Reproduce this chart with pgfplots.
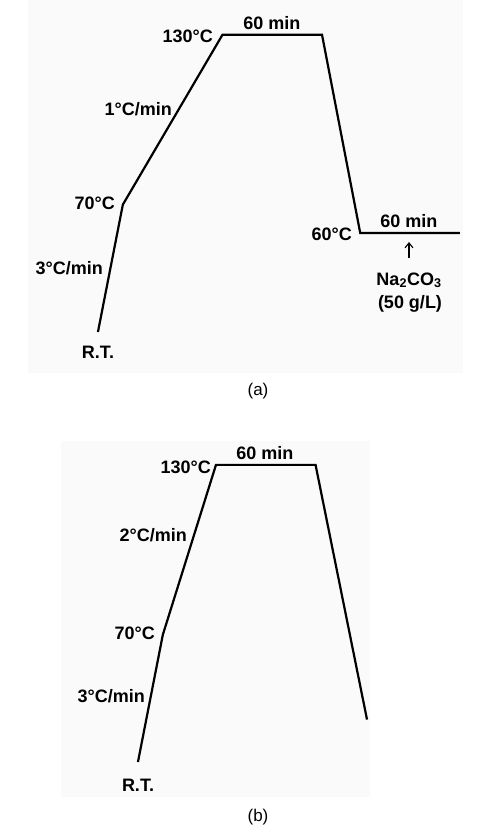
\documentclass[border=0pt]{standalone}
\usepackage{pgfplots}
\pgfplotsset{compat=1.18}
\usepackage{fontspec}
\setmainfont{Liberation Sans}
\usetikzlibrary{arrows.meta}
\pgfplotstableread{
t T
0 25
15 70
75 130
135 130
158 60
218 60
}\profileA
\pgfplotstableread{
t T
0 25
15 70
47 130
107 130
138 40
}\profileB
\begin{document}
\begin{tikzpicture}[x=1pt,y=1pt]
\useasboundingbox (0,0) rectangle (495,-839);
% faint backgrounds
\fill[black!2] (28,0) rectangle (463,-373);
\fill[black!2] (61,-441) rectangle (370,-797);
% panel (a)
\begin{axis}[at={(0pt,-420pt)},anchor=south west,scale only axis,
  x=1.66pt,y=2.83pt,xmin=-59,xmax=239.2,ymin=-6.1,ymax=142.3,
  axis lines=none,clip=false]
\addplot[black,line width=2.2pt,line join=miter,no marks] table[x=t,y=T]{\profileA};
\end{axis}
% panel (b)
\begin{axis}[at={(0pt,-839pt)},anchor=south west,scale only axis,
  x=1.66pt,y=2.83pt,xmin=-83.1,xmax=215.1,ymin=-2.2,ymax=145.9,
  axis lines=none,clip=false]
\addplot[black,line width=2.2pt,line join=miter,no marks] table[x=t,y=T]{\profileB};
\end{axis}
\tikzset{lab/.style={font=\fontsize{18}{20}\selectfont\bfseries,inner sep=0pt}}
% labels (a)
\node[lab,anchor=base east] at (213,-42) {130°C};
\node[lab,anchor=base] at (272,-29) {60 min};
\node[lab,anchor=base east] at (172,-115) {1°C/min};
\node[lab,anchor=base east] at (115,-209) {70°C};
\node[lab,anchor=base east] at (103,-274) {3°C/min};
\node[lab,anchor=base] at (98,-358) {R.T.};
\node[lab,anchor=base east] at (352,-240) {60°C};
\node[lab,anchor=base] at (409,-227) {60 min};
\draw[-{Straight Barb[length=5pt,width=8pt]},line width=1.1pt] (409,-258) -- (409,-242);
\node[lab,anchor=base] at (409,-285) {Na\textsubscript{2}CO\textsubscript{3}};
\node[lab,anchor=base] at (410,-308) {(50 g/L)};
\node[font=\fontsize{17}{19}\selectfont,inner sep=0pt,anchor=base] at (258,-395) {(a)};
% labels (b)
\node[lab,anchor=base east] at (211,-473) {130°C};
\node[lab,anchor=base] at (265,-459) {60 min};
\node[lab,anchor=base east] at (187,-541) {2°C/min};
\node[lab,anchor=base east] at (155,-639) {70°C};
\node[lab,anchor=base east] at (145,-702) {3°C/min};
\node[lab,anchor=base] at (138,-791) {R.T.};
\node[font=\fontsize{17}{19}\selectfont,inner sep=0pt,anchor=base] at (258,-821) {(b)};
\end{tikzpicture}
\end{document}
